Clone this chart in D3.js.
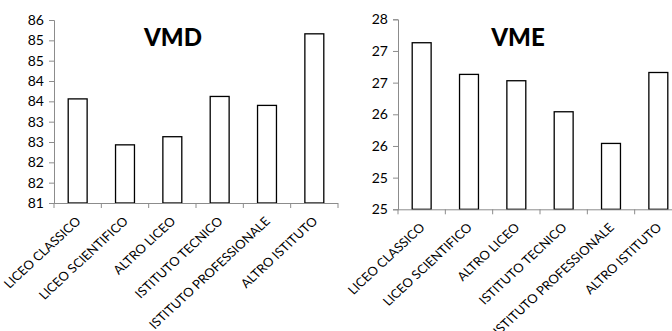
<!DOCTYPE html>
<html><head><meta charset="utf-8">
<script src="https://cdn.jsdelivr.net/npm/d3@7"></script>
<style>body{margin:0;background:#fff}svg{display:block}</style>
</head><body>
<svg id="c" width="672" height="331"></svg>
<script>
const categories = ["LICEO CLASSICO","LICEO SCIENTIFICO","ALTRO LICEO","ISTITUTO TECNICO","ISTITUTO PROFESSIONALE","ALTRO ISTITUTO"];
const vmdValues = [83.56, 82.43, 82.63, 83.62, 83.40, 85.16];
const vmeValues = [27.13, 26.63, 26.53, 26.04, 25.54, 26.66];
const vmdTicks = [81, 81.5, 82, 82.5, 83, 83.5, 84, 84.5, 85, 85.5];
const vmdTickLabels = ["81","82","82","83","83","84","84","85","85","86"];
const vmeTicks = [24.5, 25, 25.5, 26, 26.5, 27, 27.5];
const vmeTickLabels = ["25","25","26","26","27","27","28"];

const svg = d3.select("#c");
const FONT = "Lato, 'Open Sans', sans-serif";

function panel(cfg){
  const g = svg.append("g");
  const x = d3.scaleBand().domain(categories).range([cfg.x0, cfg.x1]).paddingInner(0.6).paddingOuter(0.3);
  const y = d3.scaleLinear().domain([cfg.ticks[0], cfg.ticks[cfg.ticks.length-1]]).range([cfg.y0, cfg.y1]);
  g.selectAll("rect").data(cfg.values).enter().append("rect")
    .attr("x", (d,i)=>x(categories[i])).attr("width", x.bandwidth())
    .attr("y", d=>y(d)).attr("height", d=>cfg.y0 - y(d))
    .attr("fill","#fff").attr("stroke","#000").attr("stroke-width",1.3);
  const ya = d3.axisLeft(y).tickValues(cfg.ticks).tickSize(5).tickPadding(5)
    .tickFormat((d,i)=>cfg.labels[i]);
  const yg = g.append("g").attr("transform",`translate(${cfg.x0},0)`).call(ya);
  yg.select(".domain").attr("stroke","#8c8c8c");
  yg.selectAll(".tick line").attr("stroke","#8c8c8c");
  yg.selectAll("text").attr("font-family",FONT).attr("font-size",14).attr("fill","#000");
  const step = x.step();
  g.append("line").attr("x1",cfg.x0).attr("x2",cfg.x1).attr("y1",cfg.y0+0.5).attr("y2",cfg.y0+0.5).attr("stroke","#8c8c8c");
  g.selectAll(".xt").data(d3.range(categories.length+1)).enter().append("line")
    .attr("x1",i=>cfg.x0+i*step).attr("x2",i=>cfg.x0+i*step)
    .attr("y1",cfg.y0).attr("y2",cfg.y0+5).attr("stroke","#8c8c8c");
  g.selectAll(".xl").data(categories).enter().append("text")
    .attr("transform",d=>`translate(${x(d)+x.bandwidth()/2+4},${cfg.y0+19}) scale(1.08,1) rotate(-45)`)
    .attr("text-anchor","end").attr("font-family",FONT).attr("font-size",12.2).attr("fill","#000")
    .text(d=>d);
  g.append("text").attr("x",cfg.tx).attr("y",cfg.ty).attr("text-anchor","middle")
    .attr("font-family",FONT).attr("font-weight","900").attr("font-size",24).text(cfg.title);
}
panel({x0:54, x1:338, y0:203, y1:20, values:vmdValues, ticks:vmdTicks, labels:vmdTickLabels, title:"VMD", tx:173, ty:46});
panel({x0:398, x1:682, y0:209.3, y1:19.3, values:vmeValues, ticks:vmeTicks, labels:vmeTickLabels, title:"VME", tx:518, ty:46});
</script>
</body></html>
